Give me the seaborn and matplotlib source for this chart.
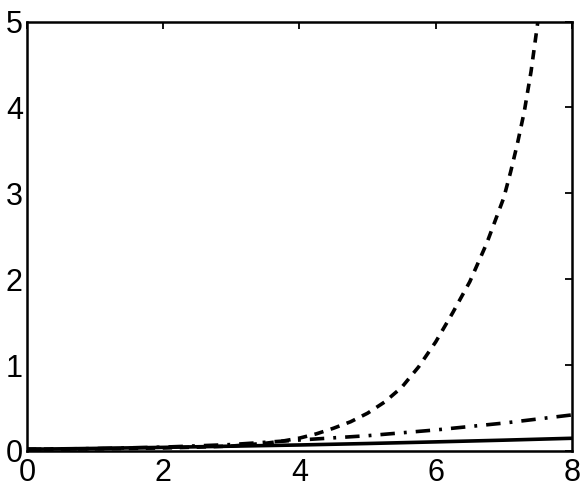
import numpy as np
import pandas as pd
import matplotlib
matplotlib.use("Agg")
import matplotlib.pyplot as plt
import seaborn as sns

# values
x_solid = [0, 1, 2, 3, 4, 5, 6, 7, 8]
y_solid = [0.02, 0.03, 0.042, 0.056, 0.07, 0.087, 0.106, 0.126, 0.148]

x_dashdot = [0, 1, 2, 3, 4, 5, 6, 7, 8]
y_dashdot = [0.02, 0.028, 0.045, 0.075, 0.128, 0.178, 0.245, 0.325, 0.42]

x_dashed = [0, 0.5, 1, 1.5, 2, 2.5, 3, 3.5, 3.75, 4.0, 4.25, 4.5, 4.75, 5.0,
            5.25, 5.5, 5.75, 6.0, 6.25, 6.5, 6.75, 7.0, 7.1, 7.2, 7.3, 7.4, 7.5]
y_dashed = [0.02, 0.022, 0.025, 0.03, 0.035, 0.045, 0.057, 0.09, 0.115, 0.15,
            0.20, 0.265, 0.34, 0.44, 0.57, 0.74, 0.98, 1.27, 1.61, 1.97, 2.42,
            2.95, 3.25, 3.58, 3.95, 4.42, 5.0]

x_ticks = [0, 2, 4, 6, 8]
y_ticks = [0, 1, 2, 3, 4, 5]

sns.set_style("white")
plt.rcParams['font.family'] = ['Liberation Sans', 'DejaVu Sans']
plt.rcParams['xtick.direction'] = 'in'
plt.rcParams['ytick.direction'] = 'in'

fig = plt.figure(figsize=(5.86, 4.91), dpi=100)
ax = fig.add_axes([0.046, 0.0815, 0.930, 0.8745])

sns.lineplot(x=x_solid, y=y_solid, ax=ax, color='black', linewidth=2.6)
sns.lineplot(x=x_dashdot, y=y_dashdot, ax=ax, color='black', linewidth=2.6)
sns.lineplot(x=x_dashed, y=y_dashed, ax=ax, color='black', linewidth=2.6)
ax.lines[1].set_dashes([4, 2.5, 0.8, 2.5])
ax.lines[2].set_dashes([2.6, 2.1])

ax.set_xlim(0, 8)
ax.set_ylim(0, 5)
ax.set_xticks(x_ticks)
ax.set_yticks(y_ticks)
ax.tick_params(axis='both', which='both', direction='in', length=5, width=1.3,
               labelsize=22, pad=3, top=True, right=True, color='black',
               labelcolor='black')
ax.tick_params(axis='x', pad=5)
for s in ax.spines.values():
    s.set_color('black')
    s.set_linewidth(1.8)

plt.savefig('out.png', dpi=100)
